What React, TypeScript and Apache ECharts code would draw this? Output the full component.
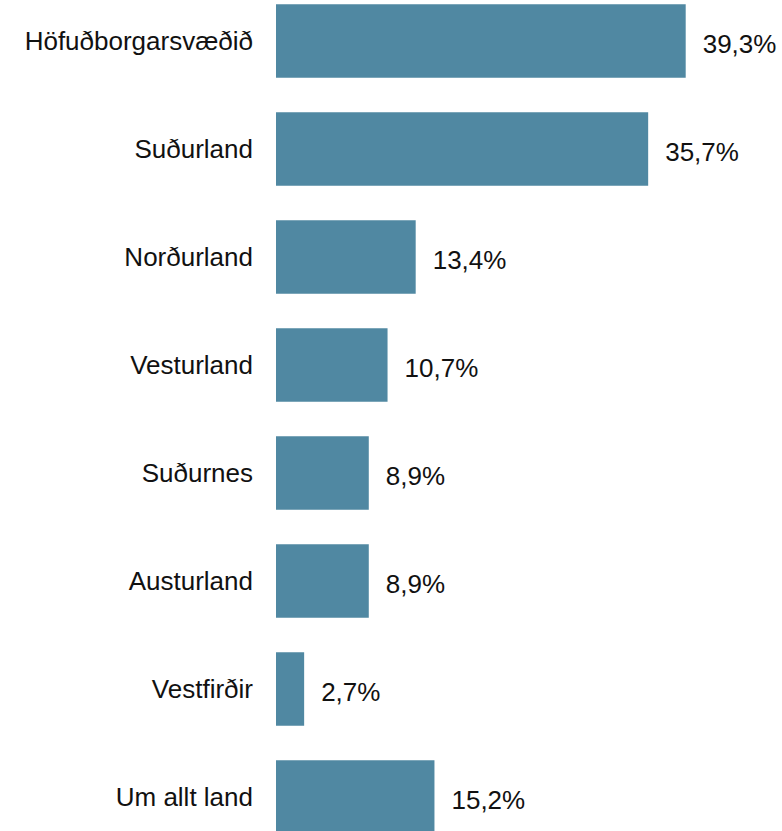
import React, { useEffect, useRef } from "react";
import * as echarts from "echarts";

const categories = [
  "Höfuðborgarsvæðið",
  "Suðurland",
  "Norðurland",
  "Vesturland",
  "Suðurnes",
  "Austurland",
  "Vestfirðir",
  "Um allt land",
];
const values = [39.3, 35.7, 13.4, 10.7, 8.9, 8.9, 2.7, 15.2];

export default function App() {
  const ref = useRef<HTMLDivElement>(null);
  useEffect(() => {
    if (!ref.current) return;
    const chart = echarts.init(ref.current, null, { renderer: "svg" });
    chart.setOption({
      animation: false,
      textStyle: { fontFamily: "Liberation Sans, Arial, sans-serif" },
      grid: { left: 276, right: 89, top: 0, bottom: 0, containLabel: false },
      xAxis: {
        type: "value",
        min: 0,
        max: 40,
        show: false,
      },
      yAxis: {
        type: "category",
        inverse: true,
        data: categories,
        axisLine: { show: false },
        axisTick: { show: false },
        axisLabel: {
          margin: 23,
          fontSize: 26,
          color: "#111",
          fontFamily: "Liberation Sans, Arial, sans-serif",
        },
      },
      series: [
        {
          type: "bar",
          data: values,
          barCategoryGap: "32%",
          itemStyle: { color: "#5088A2" },
          label: {
            show: true,
            position: "right",
            distance: 17,
            offset: [0, 3],
            fontSize: 26,
            color: "#111",
            fontFamily: "Liberation Sans, Arial, sans-serif",
            formatter: (p: any) => p.value.toFixed(1).replace(".", ",") + "%",
          },
        },
      ],
    });
    return () => chart.dispose();
  }, []);
  return (
    <div
      ref={ref}
      style={{ position: "fixed", left: 0, top: -13, width: 782, height: 864, background: "#fff" }}
    />
  );
}
